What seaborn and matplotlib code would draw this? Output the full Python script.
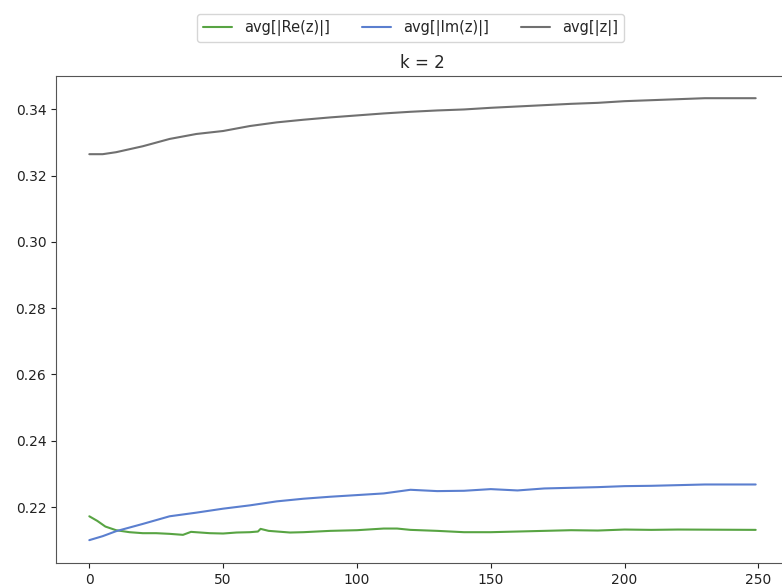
import matplotlib
matplotlib.use("Agg")
import matplotlib.pyplot as plt
import seaborn as sns
import pandas as pd

# Read-off values (step index -> value)
re_x = [0, 3, 6, 10, 15, 20, 25, 30, 35, 38, 45, 50, 55, 60, 63, 64, 67, 75, 80, 90,
        100, 110, 115, 120, 130, 140, 150, 160, 170, 180, 190, 200, 210, 220, 249]
re_y = [0.2172, 0.2158, 0.2141, 0.2130, 0.2124, 0.2121, 0.2121, 0.2119, 0.2116, 0.2125,
        0.2121, 0.2120, 0.2123, 0.2124, 0.2126, 0.2134, 0.2128, 0.2123, 0.2124, 0.2128,
        0.2130, 0.2135, 0.2135, 0.2131, 0.2128, 0.2124, 0.2124, 0.2126, 0.2128, 0.2130,
        0.2129, 0.2132, 0.2131, 0.2132, 0.2131]

im_x = [0, 5, 10, 20, 30, 40, 50, 60, 70, 80, 90, 100, 110, 120, 130, 140, 150, 160,
        170, 180, 190, 200, 210, 220, 230, 249]
im_y = [0.2100, 0.2112, 0.2127, 0.2149, 0.2172, 0.2183, 0.2195, 0.2205, 0.2217, 0.2225,
        0.2231, 0.2236, 0.2241, 0.2252, 0.2248, 0.2249, 0.2254, 0.2250, 0.2256, 0.2258,
        0.2260, 0.2263, 0.2264, 0.2266, 0.2268, 0.2268]

abs_x = [0, 5, 10, 20, 30, 40, 50, 60, 70, 80, 90, 100, 110, 120, 130, 140, 150, 160,
         170, 180, 190, 200, 210, 220, 230, 249]
abs_y = [0.3265, 0.3265, 0.3271, 0.3289, 0.3311, 0.3326, 0.3335, 0.3350, 0.3361, 0.3369,
         0.3376, 0.3382, 0.3388, 0.3393, 0.3397, 0.3400, 0.3405, 0.3409, 0.3413, 0.3417,
         0.3420, 0.3425, 0.3428, 0.3431, 0.3434, 0.3434]

labels = ["avg[|Re(z)|]", "avg[|Im(z)|]", "avg[|z|]"]
colors = ["#58a443", "#5b7fcf", "#707070"]
title = "k = 2"

df = pd.concat([
    pd.DataFrame({"step": re_x, "value": re_y, "series": labels[0]}),
    pd.DataFrame({"step": im_x, "value": im_y, "series": labels[1]}),
    pd.DataFrame({"step": abs_x, "value": abs_y, "series": labels[2]}),
], ignore_index=True)

sns.set_style("ticks")
fig = plt.figure(figsize=(7.82, 5.88), dpi=100)
ax = fig.add_axes([56 / 782, 25 / 588, 733 / 782, 487 / 588])
sns.lineplot(data=df, x="step", y="value", hue="series", palette=dict(zip(labels, colors)),
             linewidth=1.5, ax=ax, legend=False)
ax.set_xlabel("")
ax.set_ylabel("")
ax.set_title(title, fontsize=12)
ax.set_xticks([0, 50, 100, 150, 200, 250])
ax.set_yticks([0.22, 0.24, 0.26, 0.28, 0.30, 0.32, 0.34])
ax.set_yticklabels([f"{v:.2f}" for v in [0.22, 0.24, 0.26, 0.28, 0.30, 0.32, 0.34]])
ax.set_xlim(-12.45, 261.45)
ax.set_ylim(0.2031, 0.3501)
for s in ax.spines.values():
    s.set_color("#555555")
ax.tick_params(colors="#222222", labelsize=10)

handles = [plt.Line2D([], [], color=c, lw=1.5) for c in colors]
fig.legend(handles, labels, loc="upper center", bbox_to_anchor=(410.5 / 782, 1 - 7 / 588),
           ncol=3, fontsize=10.5, columnspacing=2.2, frameon=True)

fig.savefig("out.png", dpi=100)
